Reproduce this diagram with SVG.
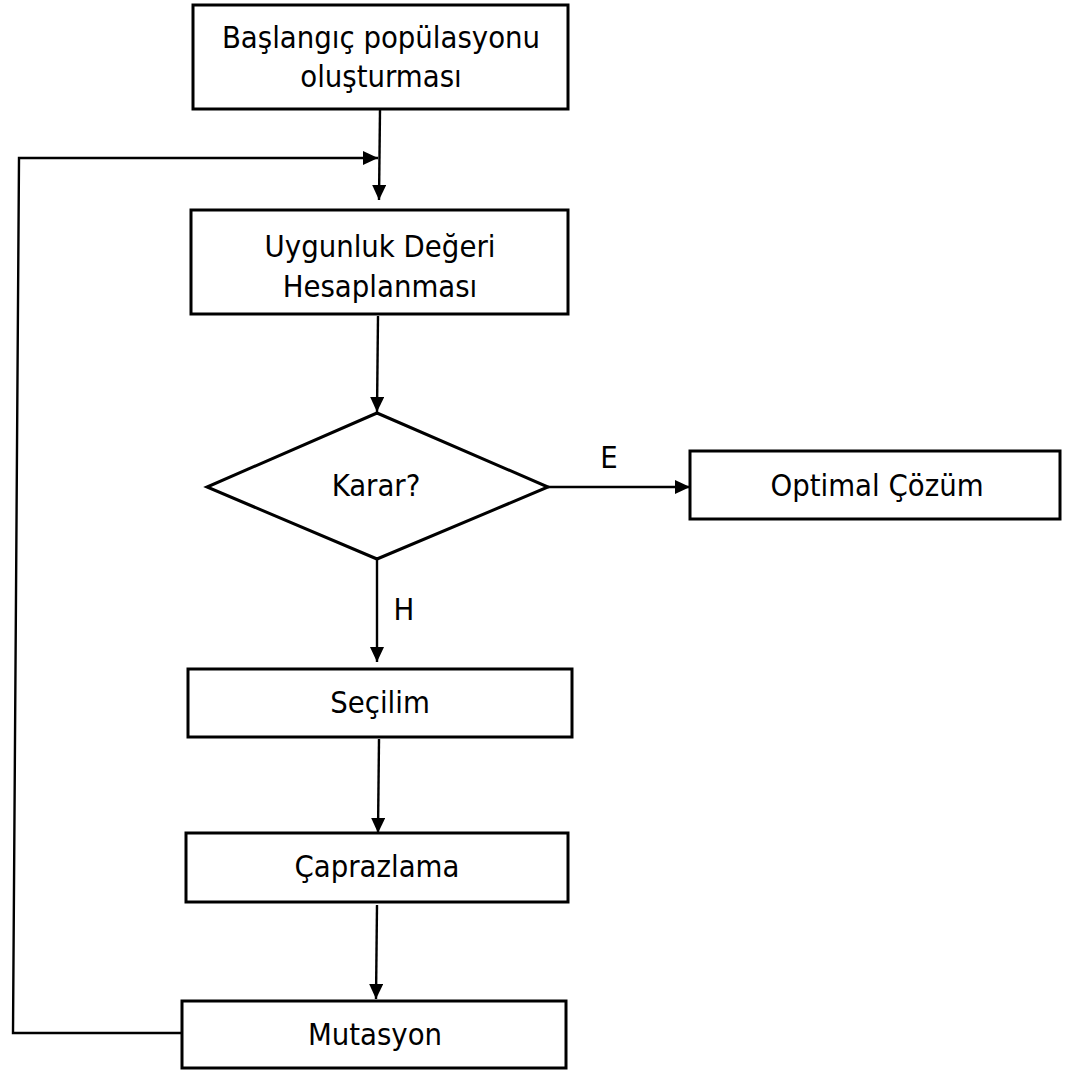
<svg xmlns="http://www.w3.org/2000/svg" width="1067" height="1070" viewBox="0 0 1067 1070">
<style>
.box{fill:#fff;stroke:#000;stroke-width:3}
.lbl{font-family:'DejaVu Sans Condensed','DejaVu Sans',sans-serif;font-stretch:condensed;font-size:30.7px;fill:#000;text-anchor:middle}
.con{fill:none;stroke:#000;stroke-width:2.4}
</style>
<defs>
<marker id="ah" markerUnits="userSpaceOnUse" markerWidth="16" markerHeight="14" refX="15" refY="7" orient="auto">
<path d="M0,0 L15,7 L0,14 Z" fill="#000"/>
</marker>
</defs>
<rect width="1067" height="1070" fill="#fff"/>
<g id="connectors">
<path class="con" d="M380,110 L379,200" marker-end="url(#ah)"/>
<path class="con" d="M182,1033 L13,1033 L19,158 L378,158" marker-end="url(#ah)"/>
<path class="con" d="M378,316 L377,412" marker-end="url(#ah)"/>
<path class="con" d="M548,487 L690,487" marker-end="url(#ah)"/>
<path class="con" d="M377,559 L377,662" marker-end="url(#ah)"/>
<path class="con" d="M379,739 L378,833" marker-end="url(#ah)"/>
<path class="con" d="M377,905 L376,999" marker-end="url(#ah)"/>
</g>
<g id="lbl-E"><text class="lbl" x="609" y="468">E</text></g>
<g id="lbl-H"><text class="lbl" x="404" y="620">H</text></g>
<g id="n1">
<rect class="box" x="193" y="5" width="375" height="104"/>
<text class="lbl" x="381" y="48">Başlangıç popülasyonu</text>
<text class="lbl" x="381" y="87">oluşturması</text>
</g>
<g id="n2">
<rect class="box" x="191" y="210" width="377" height="104"/>
<text class="lbl" x="380" y="257">Uygunluk Değeri</text>
<text class="lbl" x="380" y="297">Hesaplanması</text>
</g>
<g id="n3">
<polygon class="box" points="377,413 548,487 377,559 207,487"/>
<text class="lbl" x="376" y="496">Karar?</text>
</g>
<g id="n4">
<rect class="box" x="690" y="451" width="370" height="68"/>
<text class="lbl" x="877" y="496">Optimal Çözüm</text>
</g>
<g id="n5">
<rect class="box" x="188" y="669" width="384" height="68"/>
<text class="lbl" x="380" y="713">Seçilim</text>
</g>
<g id="n6">
<rect class="box" x="186" y="833" width="382" height="69"/>
<text class="lbl" x="377" y="877">Çaprazlama</text>
</g>
<g id="n7">
<rect class="box" x="182" y="1001" width="384" height="67"/>
<text class="lbl" x="375" y="1045">Mutasyon</text>
</g>
</svg>
